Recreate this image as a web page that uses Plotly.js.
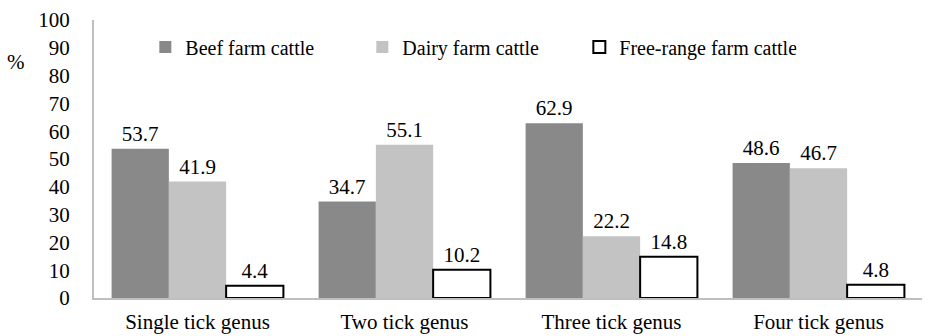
<!DOCTYPE html>
<html><head><meta charset="utf-8">
<script src="https://cdn.plot.ly/plotly-3.0.1.min.js"></script>
</head><body style="margin:0;padding:0;background:#fff">
<div id="c" style="width:929px;height:336px"></div>
<script>
const categories = ["Single tick genus","Two tick genus","Three tick genus","Four tick genus"];
const beef = [53.7, 34.7, 62.9, 48.6];
const dairy = [41.9, 55.1, 22.2, 46.7];
const freeRange = [4.4, 10.2, 14.8, 4.8];
const seriesNames = ["Beef farm cattle","Dairy farm cattle","Free-range farm cattle"];
const yTicks = [0,10,20,30,40,50,60,70,80,90,100];

function mkFont(s){ return {family:"Times New Roman", size:s, color:"#000"}; }
function tr(name, vals, fill, lineColor, lineWidth){
  return {type:"bar", name:name, x:categories, y:vals,
    marker:{color:fill, line:{color:lineColor, width:lineWidth}},
    text:vals.map(v=>v.toFixed(1)), textposition:"outside", cliponaxis:false,
    textfont:mkFont(21), hoverinfo:"none"};
}
const data = [
  tr(seriesNames[0], beef, "#898989", "#898989", 0),
  tr(seriesNames[1], dairy, "#c3c3c3", "#c3c3c3", 0),
  tr(seriesNames[2], freeRange, "#ffffff", "#000000", 2)
];
const layout = {
  width:929, height:336,
  margin:{l:94, r:7, t:20, b:38},
  font:mkFont(21),
  paper_bgcolor:"#fff", plot_bgcolor:"#fff",
  barmode:"group", bargap:0.17, bargroupgap:0,
  showlegend:true,
  legend:{orientation:"h", x:0.062, y:0.903, xanchor:"left", yanchor:"middle",
    font:mkFont(20), entrywidth:172, entrywidthmode:"pixels", traceorder:"normal",
    itemwidth:30, bgcolor:"rgba(0,0,0,0)"},
  xaxis:{showgrid:false, showline:true, linecolor:"#bfbfbf", linewidth:2,
    ticks:"", tickfont:mkFont(21), ticklabelstandoff:4, fixedrange:true},
  yaxis:{range:[0,100], tickvals:yTicks, ticktext:yTicks.map(String),
    showgrid:false, zeroline:false, showline:true, linecolor:"#bfbfbf", linewidth:2,
    ticks:"", tickfont:mkFont(21), ticklabelstandoff:18},
  annotations:[{text:"%", xref:"paper", yref:"paper", x:-0.094, y:0.849,
    showarrow:false, font:mkFont(21), xanchor:"center", yanchor:"middle"}]
};
Plotly.newPlot("c", data, layout, {displayModeBar:false, staticPlot:true});
</script></body></html>
